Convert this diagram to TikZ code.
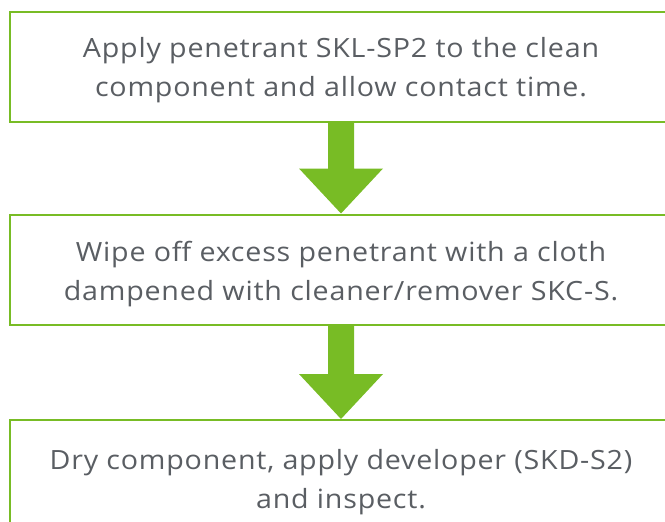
\documentclass[tikz,border=0pt]{standalone}
\usepackage{fontspec}
\setmainfont{Open Sans}[FakeStretch=1.08, LetterSpace=3]
\usetikzlibrary{calc}
\definecolor{stepgreen}{HTML}{78BC25}
\definecolor{stepgray}{HTML}{5A5E63}
\tikzset{
 stepbox/.style={draw=stepgreen, line width=2pt, fill=white, minimum width=662pt, minimum height=110pt, inner sep=0pt},
 steptext/.style={align=center, text=stepgray, font=\fontsize{26.5}{39}\selectfont, inner sep=0pt},
 fatarrow/.style={fill=stepgreen}
}

\begin{document}
\begin{tikzpicture}[x=1pt,y=-1pt]
\useasboundingbox (0,0) rectangle (665,522);
\clip (0,0) rectangle (665,522);
\node[stepbox] (box1) at (341,67)    {};
\node[stepbox] (box2) at (341,269.5) {};
\node[stepbox] (box3) at (341,475)   {};
\node[steptext] (text1) at ($(box1.center)+(0,2.7)$) {Apply penetrant SKL-SP2 to the clean\\component and allow contact time.};
\node[steptext] (text2) at ($(box2.center)+(0,4.2)$) {Wipe off excess penetrant with a cloth\\dampened with cleaner/remover SKC-S.};
\node[steptext] (text3) at ($(box3.center)+(0,7)$)   {Dry component, apply developer (SKD-S2)\\and inspect.};
% fat arrows between the steps
\foreach \a/\b in {box1/box2, box2/box3} {
 \fill[fatarrow] ($(\a.south)+(-13,0)$) -- ($(\a.south)+(13,0)$)
  -- ($(\b.north)+(13,-45)$) -- ($(\b.north)+(42,-45)$) -- (\b.north)
  -- ($(\b.north)+(-42,-45)$) -- ($(\b.north)+(-13,-45)$) -- cycle;
}
\end{tikzpicture}
\end{document}
